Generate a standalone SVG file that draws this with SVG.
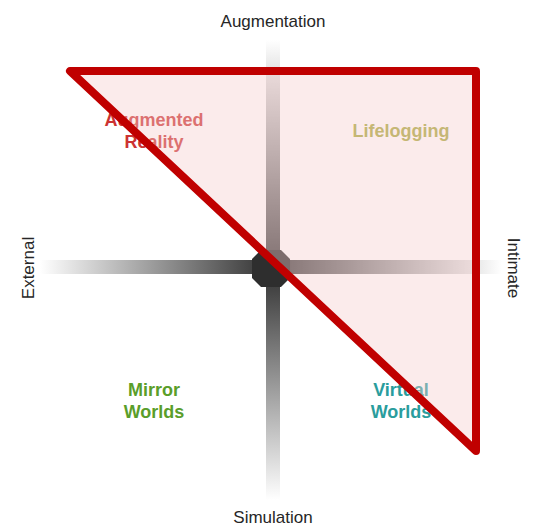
<svg xmlns="http://www.w3.org/2000/svg" width="534" height="531" viewBox="0 0 534 531">
<defs>
<linearGradient id="gv" x1="0" y1="40" x2="0" y2="500" gradientUnits="userSpaceOnUse">
<stop offset="0" stop-color="#333" stop-opacity="0"/>
<stop offset="0.5" stop-color="#333" stop-opacity="1"/>
<stop offset="1" stop-color="#333" stop-opacity="0"/>
</linearGradient>
<linearGradient id="gh" x1="40" y1="0" x2="502" y2="0" gradientUnits="userSpaceOnUse">
<stop offset="0" stop-color="#333" stop-opacity="0"/>
<stop offset="0.5" stop-color="#333" stop-opacity="1"/>
<stop offset="1" stop-color="#333" stop-opacity="0"/>
</linearGradient>
</defs>
<style>
.axis{font-family:"Liberation Sans",Arial,sans-serif;font-size:17px;fill:#262626;text-anchor:middle}
.q{font-family:"Liberation Sans",Arial,sans-serif;font-size:18px;font-weight:bold;text-anchor:middle}
</style>
<rect width="534" height="531" fill="#fff"/>
<g id="axes">
<rect x="266" y="40" width="14" height="460" fill="url(#gv)"/>
<rect x="40" y="260" width="462" height="14" fill="url(#gh)"/>
<polygon points="261,250 281,250 290,259 290,278 281,287 261,287 252,278 252,259" fill="#2e2e2e"/>
</g>
<g id="labels-axes">
<text class="axis" x="273" y="27">Augmentation</text>
<text class="axis" x="273" y="523">Simulation</text>
<text class="axis" transform="translate(34,268) rotate(-90)">External</text>
<text class="axis" transform="translate(508,268) rotate(90)">Intimate</text>
</g>
<g id="quadrants">
<g id="ar"><text class="q" fill="#cc3333" x="154" y="126">Augmented</text><text class="q" fill="#cc3333" x="154" y="148">Reality</text></g>
<g id="ll"><text class="q" fill="#a6a83a" x="401" y="137">Lifelogging</text></g>
<g id="mw"><text class="q" fill="#5a9e2a" x="154" y="396">Mirror</text><text class="q" fill="#5a9e2a" x="154" y="418">Worlds</text></g>
<g id="vw"><text class="q" fill="#2a9d9d" x="401" y="396">Virtual</text><text class="q" fill="#2a9d9d" x="401" y="418">Worlds</text></g>
</g>
<g id="triangle">
<polygon points="70,71 476,71 476,451" fill="#f4cccc" fill-opacity="0.4" stroke="#c00000" stroke-width="8" stroke-linejoin="round"/>
</g>
</svg>
